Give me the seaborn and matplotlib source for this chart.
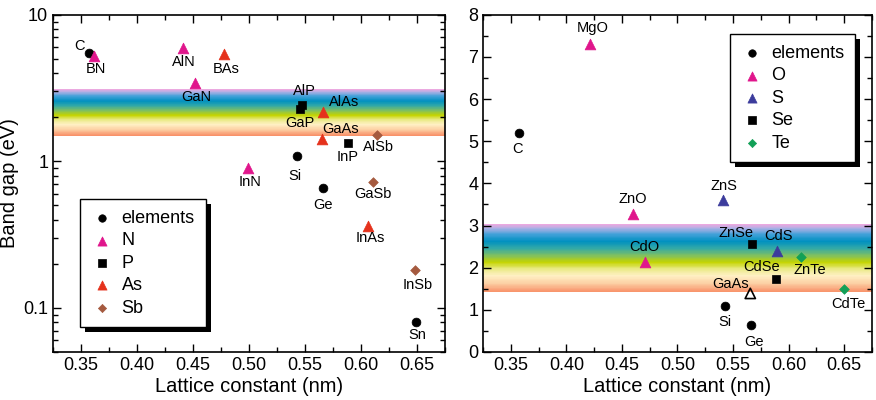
import matplotlib
matplotlib.use("Agg")
import matplotlib.pyplot as plt
import seaborn as sns
import numpy as np
from matplotlib.colors import LinearSegmentedColormap
from matplotlib.patches import Rectangle
from matplotlib.ticker import MultipleLocator, FixedLocator, LogLocator, NullFormatter, FuncFormatter
import matplotlib.transforms as mtransforms

# ---- left panel data (lattice constant nm, band gap eV) ----
left_elem_names = ["C", "Si", "Ge", "Sn"]
left_elem_a = [0.357, 0.543, 0.566, 0.649]
left_elem_eg = [5.45, 1.09, 0.66, 0.08]

left_N_names = ["BN", "AlN", "GaN", "InN"]
left_N_a = [0.3615, 0.441, 0.452, 0.499]
left_N_eg = [5.2, 5.95, 3.4, 0.9]

left_P_names = ["AlP", "GaP", "InP"]
left_P_a = [0.5475, 0.5455, 0.588]
left_P_eg = [2.42, 2.26, 1.34]

left_As_names = ["BAs", "AlAs", "GaAs", "InAs"]
left_As_a = [0.478, 0.5665, 0.5655, 0.606]
left_As_eg = [5.4, 2.17, 1.43, 0.36]

left_Sb_names = ["AlSb", "GaSb", "InSb"]
left_Sb_a = [0.614, 0.6105, 0.648]
left_Sb_eg = [1.52, 0.72, 0.18]

# ---- right panel data ----
right_elem_names = ["C", "Si", "Ge"]
right_elem_a = [0.357, 0.543, 0.566]
right_elem_eg = [5.2, 1.08, 0.64]

right_O_names = ["MgO", "ZnO", "CdO"]
right_O_a = [0.4215, 0.460, 0.4705]
right_O_eg = [7.3, 3.28, 2.14]

right_S_names = ["ZnS", "CdS"]
right_S_a = [0.541, 0.5895]
right_S_eg = [3.6, 2.4]

right_Se_names = ["ZnSe", "CdSe"]
right_Se_a = [0.567, 0.589]
right_Se_eg = [2.57, 1.73]

right_Te_names = ["ZnTe", "CdTe"]
right_Te_a = [0.611, 0.6495]
right_Te_eg = [2.25, 1.5]

ref_names = ["GaAs"]
ref_a = [0.5655]
ref_eg = [1.39]

# visible band (eV)
left_band = (1.5, 3.1)
right_band = (1.42, 3.03)

# label offsets in pixels (dx, dy)
left_offsets = {
    "C": (-9, 7), "BN": (2, -13), "AlN": (1, -14), "BAs": (2, -15), "GaN": (1, -14),
    "AlP": (2, 14), "GaP": (0, -14), "AlAs": (21, 10), "GaAs": (18, 10),
    "AlSb": (2, -12), "InP": (0, -14), "Si": (-2, -20), "InN": (2, -14),
    "Ge": (0, -17), "GaSb": (0, -12), "InAs": (3, -12), "InSb": (3, -15), "Sn": (1, -13),
}
right_offsets = {
    "C": (-1, -16), "MgO": (2, 16), "ZnO": (0, 15), "CdO": (0, 15), "ZnS": (1, 14),
    "ZnSe": (-16, 11), "CdS": (2, 15), "ZnTe": (9, -13), "CdSe": (-15, 12),
    "CdTe": (5, -15), "GaAs": (-20, 9), "Si": (0, -16), "Ge": (3, -17),
}

MAGENTA = "#e0168c"
RED = "#e5321c"
BROWN = "#a55a3f"
INDIGO = "#3c3c9c"
GREEN = "#12a057"

band_cmap = LinearSegmentedColormap.from_list("band", [
    (0.00, "#f0a8e0"), (0.06, "#a8b0e4"), (0.15, "#40a0d8"), (0.25, "#0090c0"),
    (0.35, "#30a8a8"), (0.46, "#80c060"), (0.56, "#c4d400"), (0.66, "#eaea88"),
    (0.76, "#fff0c4"), (0.87, "#fcd0a4"), (1.00, "#f89068"),
])

sns.set_theme(style="ticks")
plt.rcParams["font.family"] = ["Liberation Sans", "DejaVu Sans"]
plt.rcParams["axes.linewidth"] = 1.2
plt.rcParams["text.color"] = "black"
plt.rcParams["axes.labelcolor"] = "black"
plt.rcParams["xtick.color"] = "black"
plt.rcParams["ytick.color"] = "black"


def draw_band(ax, lo, hi, log=False, n=120):
    if log:
        edges = np.logspace(np.log10(hi), np.log10(lo), n + 1)
    else:
        edges = np.linspace(hi, lo, n + 1)
    for i in range(n):
        ax.axhspan(edges[i + 1], edges[i], color=band_cmap((i + 0.5) / n),
                   lw=0, zorder=0)


def add_labels(ax, names, xs, ys, offsets):
    for name, x, y in zip(names, xs, ys):
        dx, dy = offsets[name]
        ax.annotate(name, (x, y), xytext=(dx, dy), textcoords="offset pixels",
                    ha="center", va="center", fontsize=10.5, color="black")


def style_axes(ax):
    ax.tick_params(which="both", direction="in", top=True, right=True,
                   labelsize=13, width=1.0, color="black")
    ax.tick_params(which="major", length=6)
    ax.tick_params(which="minor", length=3.5)
    ax.set_xlim(0.325, 0.675)
    ax.xaxis.set_major_locator(FixedLocator([0.35, 0.40, 0.45, 0.50, 0.55, 0.60, 0.65]))
    ax.xaxis.set_major_formatter(FuncFormatter(lambda v, p: f"{v:.2f}"))
    ax.xaxis.set_minor_locator(MultipleLocator(0.025))
    ax.set_xlabel("Lattice constant (nm)", fontsize=14.5, labelpad=2)
    for s in ax.spines.values():
        s.set_color("black")


def legend_with_shadow(fig, ax, anchor):
    leg = ax.legend(loc="upper left", bbox_to_anchor=anchor, fontsize=13,
                    frameon=True, fancybox=False, framealpha=1, edgecolor="black",
                    borderpad=0.6, handlelength=1.2, handletextpad=0.5,
                    labelspacing=0.3, borderaxespad=0, markerscale=0.85)
    leg.get_frame().set_linewidth(1.0)
    leg.set_zorder(6)
    fig.canvas.draw()
    bb = leg.get_window_extent().transformed(ax.transAxes.inverted())
    off = mtransforms.offset_copy(ax.transAxes, fig=fig, x=5, y=-5, units="dots")
    ax.add_patch(Rectangle((bb.x0, bb.y0), bb.width, bb.height, transform=off,
                           facecolor="black", edgecolor="none", zorder=5.5,
                           clip_on=False))


fig = plt.figure(figsize=(8.76, 4.0), dpi=100)
ax1 = fig.add_axes([0.0605, 0.12, 0.4475, 0.843])
ax2 = fig.add_axes([0.5514, 0.12, 0.444, 0.843])

# ---- left panel ----
ax1.set_yscale("log")
ax1.set_ylim(0.05, 10)
draw_band(ax1, *left_band, log=True)
groups_left = [
    ("elements", left_elem_names, left_elem_a, left_elem_eg, "o", 40, "black"),
    ("N", left_N_names, left_N_a, left_N_eg, "^", 60, MAGENTA),
    ("P", left_P_names, left_P_a, left_P_eg, "s", 36, "black"),
    ("As", left_As_names, left_As_a, left_As_eg, "^", 60, RED),
    ("Sb", left_Sb_names, left_Sb_a, left_Sb_eg, "D", 24, BROWN),
]
for lab, names, xs, ys, mk, sz, col in groups_left:
    sns.scatterplot(x=xs, y=ys, ax=ax1, marker=mk, s=sz, color=col,
                    edgecolor=col, linewidth=0.5, label=lab, zorder=3)
    add_labels(ax1, names, xs, ys, left_offsets)
style_axes(ax1)
ax1.yaxis.set_major_locator(FixedLocator([0.1, 1, 10]))
ax1.yaxis.set_major_formatter(FuncFormatter(lambda v, p: f"{v:g}"))
ax1.yaxis.set_minor_locator(LogLocator(base=10, subs=np.arange(2, 10)))
ax1.yaxis.set_minor_formatter(NullFormatter())
ax1.set_ylabel("Band gap (eV)", fontsize=14.5, labelpad=3)

# ---- right panel ----
ax2.set_ylim(0, 8)
draw_band(ax2, *right_band)
groups_right = [
    ("elements", right_elem_names, right_elem_a, right_elem_eg, "o", 40, "black"),
    ("O", right_O_names, right_O_a, right_O_eg, "^", 60, MAGENTA),
    ("S", right_S_names, right_S_a, right_S_eg, "^", 60, INDIGO),
    ("Se", right_Se_names, right_Se_a, right_Se_eg, "s", 36, "black"),
    ("Te", right_Te_names, right_Te_a, right_Te_eg, "D", 24, GREEN),
]
for lab, names, xs, ys, mk, sz, col in groups_right:
    sns.scatterplot(x=xs, y=ys, ax=ax2, marker=mk, s=sz, color=col,
                    edgecolor=col, linewidth=0.5, label=lab, zorder=3)
    add_labels(ax2, names, xs, ys, right_offsets)
sns.scatterplot(x=ref_a, y=ref_eg, ax=ax2, marker="^", s=55, facecolor="none",
                edgecolor="black", linewidth=1.2, legend=False, zorder=3)
add_labels(ax2, ref_names, ref_a, ref_eg, right_offsets)
style_axes(ax2)
ax2.yaxis.set_major_locator(MultipleLocator(1))
ax2.yaxis.set_minor_locator(MultipleLocator(0.5))
ax2.set_ylabel("")

legend_with_shadow(fig, ax1, (0.069, 0.4536))
legend_with_shadow(fig, ax2, (0.635, 0.943))

fig.savefig("out.png", dpi=100)
plt.close(fig)
